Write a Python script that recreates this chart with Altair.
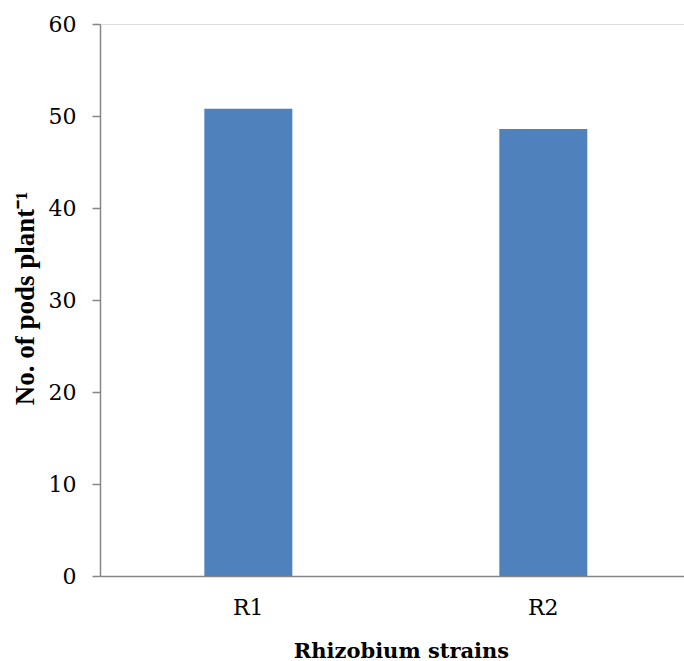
import altair as alt
import pandas as pd

strains = ["R1", "R2"]
pods_per_plant = [50.8, 48.6]

df = pd.DataFrame({"strain": strains, "pods": pods_per_plant})

axis_gray = "#868686"

chart = (
    alt.Chart(df)
    .mark_bar(color="#4F81BD")
    .encode(
        x=alt.X(
            "strain:N",
            sort=strains,
            scale=alt.Scale(paddingInner=0.7017, paddingOuter=0.3407, align=0.519),
            axis=alt.Axis(
                title="Rhizobium strains",
                labelAngle=0,
                ticks=False,
                domainColor=axis_gray,
                domainWidth=1.5,
                labelFont="DejaVu Serif",
                labelFontSize=22,
                labelColor="#000000",
                labelPadding=21,
                titleFont="DejaVu Serif",
                titleFontSize=21,
                titleFontWeight="bold",
                titleColor="#000000",
                titleAlign="center",
                titleBaseline="alphabetic",
                titleX=301,
                titleY=81,
            ),
        ),
        y=alt.Y(
            "pods:Q",
            scale=alt.Scale(domain=[0, 60], nice=False),
            axis=alt.Axis(
                title="No. of  pods plant⁻¹",
                values=[0, 10, 20, 30, 40, 50, 60],
                grid=False,
                domainColor=axis_gray,
                domainWidth=1.5,
                tickColor=axis_gray,
                tickSize=8,
                tickWidth=1.5,
                labelFont="DejaVu Serif",
                labelFontSize=22,
                labelColor="#000000",
                labelPadding=16,
                titleFont="Liberation Serif",
                titleFontSize=27,
                titleFontWeight="bold",
                titleColor="#000000",
                titleAngle=-90,
                titleAlign="center",
                titleBaseline="alphabetic",
                titleX=-67,
                titleY=274,
            ),
        ),
    )
    .properties(
        width=584,
        height=552,
        autosize=alt.AutoSizeParams(type="none"),
        padding={"left": 100, "top": 24, "right": 0, "bottom": 85},
    )
    .configure_view(stroke=None)
    .configure(background="white")
)

chart.save("out.html", embed_options={"renderer": "svg", "actions": False})
